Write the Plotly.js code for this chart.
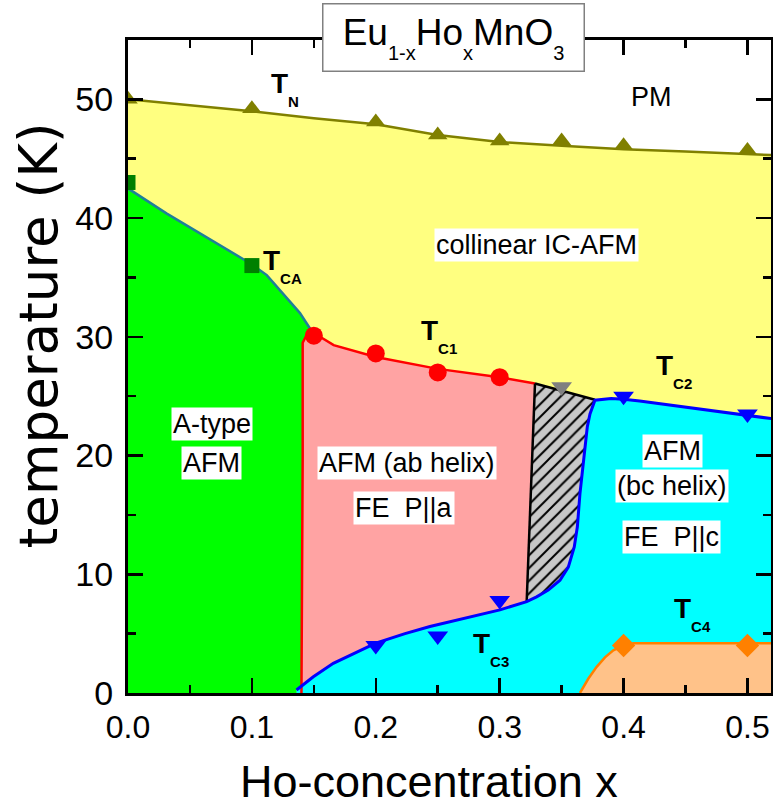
<!DOCTYPE html>
<html>
<head>
<meta charset="utf-8">
<script src="https://cdn.plot.ly/plotly-3.0.1.min.js"></script>
<style>html,body{margin:0;padding:0;background:#fff;}</style>
</head>
<body>
<div id="chart" style="width:773px;height:809px;"></div>
<script>
// ---- measured data points ----
const tnX = [0, 0.1, 0.2, 0.25, 0.3, 0.35, 0.4, 0.5];
const tnY = [50.0, 49.2, 48.1, 47.0, 46.5, 46.5, 46.1, 45.7];
const tcaX = [0, 0.1];
const tcaY = [43.0, 36.0];
const tc1X = [0.15, 0.2, 0.25, 0.3];
const tc1Y = [30.1, 28.6, 27.0, 26.6];
const tc2X = [0.4, 0.5];
const tc2Y = [25.0, 23.5];
const tcGrayX = [0.35];
const tcGrayY = [25.8];
const tc3X = [0.2, 0.25, 0.3];
const tc3Y = [4.0, 4.8, 7.8];
const tc4X = [0.4, 0.5];
const tc4Y = [4.0, 4.0];

// ---- phase boundary curves ----
const tnLineX = [0, 0.05, 0.1, 0.15, 0.2, 0.25, 0.3, 0.35, 0.4, 0.45, 0.5, 0.52];
const tnLineY = [50.0, 49.5, 49.0, 48.4, 47.9, 47.0, 46.4, 46.1, 45.8, 45.6, 45.4, 45.3];
const tcaLineX = [0, 0.031, 0.0985, 0.112, 0.1254, 0.1388, 0.1469];
const tcaLineY = [42.5, 40.4, 36.2, 35.2, 33.6, 32.0, 30.7];
const vertLineX = [0.1469, 0.141, 0.141, 0.1405, 0.140];
const vertLineY = [30.7, 29.5, 20, 12, 0];
const tc1LineX = [0.1469, 0.155, 0.166, 0.2, 0.25, 0.3, 0.3285];
const tc1LineY = [30.7, 30.0, 29.3, 28.3, 27.3, 26.6, 26.07];
const hatchLeftX = [0.3285, 0.3218];
const hatchLeftY = [26.07, 7.7];
const hatchTopX = [0.3285, 0.3769];
const hatchTopY = [26.07, 24.7];
const tc3LineX = [0.136, 0.1496, 0.1657, 0.2, 0.2236, 0.2437, 0.3002, 0.3218];
const tc3LineY = [0.25, 1.37, 2.5, 4.2, 5.0, 5.6, 7.0, 7.7];
const hatchRightX = [0.3218, 0.3298, 0.3392, 0.3487, 0.3554, 0.3602, 0.3627, 0.3648, 0.3675, 0.3707, 0.3729, 0.3769];
const hatchRightY = [7.7, 8.1, 8.67, 9.5, 10.6, 12.3, 14.0, 16.8, 19.6, 22.4, 23.5, 24.66];
const tc2LineX = [0.3769, 0.39, 0.4, 0.413, 0.45, 0.5, 0.52];
const tc2LineY = [24.66, 24.8, 24.75, 24.6, 24.1, 23.4, 23.1];
const tc4LineX = [0.3648, 0.3715, 0.3783, 0.385, 0.3917, 0.4, 0.408, 0.52];
const tc4LineY = [0, 1.2, 2.2, 3.0, 3.6, 4.0, 4.2, 4.2];

const xMax = 0.519;
const rev = a => a.slice().reverse();

// ---- polygons built from the boundaries ----
const yellowX = tnLineX.concat([tnLineX[tnLineX.length-1], 0]);
const yellowY = tnLineY.concat([0, 0]);
const greenX = [0].concat(tcaLineX, vertLineX.slice(1));
const greenY = [0].concat(tcaLineY, vertLineY.slice(1));
const pinkX = vertLineX.concat([hatchLeftX[1]], rev(hatchLeftX), rev(tc1LineX));
const pinkY = vertLineY.concat([0], rev(hatchLeftY), rev(tc1LineY));
const cyanX = tc3LineX.concat(hatchRightX.slice(1), tc2LineX.slice(1), [xMax, tc3LineX[0]]);
const cyanY = tc3LineY.concat(hatchRightY.slice(1), tc2LineY.slice(1), [0, 0]);
const orangeX = tc4LineX.concat([xMax]);
const orangeY = tc4LineY.concat([0]);
const hatchX = hatchLeftX.concat(hatchRightX.slice(1), rev(hatchTopX));
const hatchY = hatchLeftY.concat(hatchRightY.slice(1), rev(hatchTopY));
const blueLineX = tc3LineX.concat(hatchRightX.slice(1), tc2LineX.slice(1));
const blueLineY = tc3LineY.concat(hatchRightY.slice(1), tc2LineY.slice(1));

function poly(x, y, color, extra) {
  return Object.assign({x: x, y: y, mode: 'lines', fill: 'toself', fillcolor: color,
    line: {width: 0, color: color}, hoverinfo: 'skip', showlegend: false}, extra || {});
}
function line(x, y, color, w) {
  return {x: x, y: y, mode: 'lines', line: {color: color, width: w || 2.5}, hoverinfo: 'skip', showlegend: false};
}
function pts(x, y, sym, color, size) {
  return {x: x, y: y, mode: 'markers', marker: {symbol: sym, color: color, size: size, line: {width: 0}}, showlegend: false};
}

const traces = [
  poly(yellowX, yellowY, '#ffff80'),
  poly(greenX, greenY, '#00ff00'),
  poly(pinkX, pinkY, '#ffa3a3'),
  poly(cyanX, cyanY, '#00ffff'),
  poly(orangeX, orangeY, '#ffc289'),
  poly(hatchX, hatchY, '#c8c8c8', {fillpattern: {shape: '/', bgcolor: '#c8c8c8', fgcolor: '#000000', size: 9, solidity: 0.22}}),
  line(tnLineX, tnLineY, '#808000', 2.5),
  line(tcaLineX, tcaLineY, '#1f7f99', 2.5),
  line(vertLineX, vertLineY, '#ff0000', 2.5),
  line(tc1LineX, tc1LineY, '#ff0000', 2.5),
  line(hatchLeftX, hatchLeftY, '#000000', 2.5),
  line(hatchTopX, hatchTopY, '#000000', 2.5),
  line(blueLineX, blueLineY, '#0000ff', 3),
  line(tc4LineX, tc4LineY, '#ff8000', 2.5),
  pts(tnX, tnY, 'triangle-up', '#808000', 17),
  pts(tcaX, tcaY, 'square', '#008000', 15),
  pts(tc1X, tc1Y, 'circle', '#ff0000', 18),
  pts(tcGrayX, tcGrayY, 'triangle-down', '#808080', 18),
  pts(tc2X, tc2Y, 'triangle-down', '#0000ff', 18),
  pts(tc3X, tc3Y, 'triangle-down', '#0000ff', 18),
  pts(tc4X, tc4Y, 'diamond', '#ff8000', 18)
];

// ---- labels ----
const FONT = 'Liberation Sans, Arial, sans-serif';
const xTitle = 'Ho-concentration x';
const yTitle = 'temperature (K)';
function px2x(p) { return (p - 128) / 1239; }
function px2y(p) { return (693 - p) / 11.88; }
function boxLabel(text, cx, cy) {
  return {x: px2x(cx), y: px2y(cy), xref: 'x', yref: 'y', text: text, showarrow: false,
    font: {family: FONT, size: 27, color: '#000'}, bgcolor: '#ffffff', borderpad: 1, xanchor: 'center', yanchor: 'middle'};
}
function tLabel(sub, left, capTop) {
  return {x: px2x(left), y: px2y(capTop - 6), xref: 'x', yref: 'y', showarrow: false,
    text: '<b>T<span style="font-size:15px;baseline-shift:-14px">' + sub + '</span></b>',
    font: {family: FONT, size: 28, color: '#000'}, xanchor: 'left', yanchor: 'top', borderpad: 0};
}
const SUB = s => '<span style="font-size:20px;baseline-shift:-15px">' + s + '</span>';

const annotations = [
  {xref: 'paper', yref: 'paper', x: (453.5 - 128) / 643, y: (693 - 38) / 653, xanchor: 'center', yanchor: 'middle',
   showarrow: false, text: 'Eu' + SUB('1-x') + 'Ho' + SUB('x') + 'MnO' + SUB('3'),
   font: {family: FONT, size: 37, color: '#000'}, bgcolor: '#ffffff', bordercolor: '#808080', borderwidth: 1.5,
   width: 258, height: 64, borderpad: 1, valign: 'middle'},
  {xref: 'paper', yref: 'paper', x: (428.5 - 128) / 643, y: (693 - 781) / 653, xanchor: 'center', yanchor: 'middle',
   showarrow: false, text: xTitle, font: {family: FONT, size: 45, color: '#000'}, borderpad: 0},
  {xref: 'paper', yref: 'paper', x: (37.5 - 128) / 643, y: (693 - 336) / 653, xanchor: 'center', yanchor: 'middle',
   showarrow: false, textangle: -90, text: yTitle, font: {family: 'DejaVu Sans, sans-serif', size: 53, color: '#000'}},
  {x: px2x(652), y: px2y(97), xref: 'x', yref: 'y', text: 'PM', showarrow: false,
   font: {family: FONT, size: 27, color: '#000'}},
  boxLabel('collinear IC-AFM', 537, 245),
  boxLabel('A-type', 212, 424),
  boxLabel('AFM', 212, 463),
  boxLabel('AFM (ab helix)', 407, 463),
  boxLabel('FE  P||a', 404, 508),
  boxLabel('AFM', 673, 451),
  boxLabel('(bc helix)', 672, 486),
  boxLabel('FE  P||c', 672, 537),
  tLabel('N', 270, 73),
  tLabel('CA', 262, 250),
  tLabel('C1', 420, 320),
  tLabel('C2', 655, 355),
  tLabel('C3', 472, 633),
  tLabel('C4', 673, 598)
];

const axisCommon = {
  showline: true, linecolor: '#000', linewidth: 3, mirror: 'ticks',
  ticks: 'inside', ticklen: 15, tickwidth: 2.5, tickcolor: '#000',
  showgrid: false, zeroline: false
};

const layout = {
  width: 773, height: 809,
  margin: {l: 128, r: 2, t: 40, b: 116},
  paper_bgcolor: '#fff', plot_bgcolor: '#fff',
  showlegend: false,
  xaxis: Object.assign({}, axisCommon, {
    range: [0, xMax], tickmode: 'linear', tick0: 0, dtick: 0.1, tickformat: '.1f',
    tickfont: {family: FONT, size: 32, color: '#000'}, ticklabelstandoff: 4,
    minor: {ticks: 'inside', ticklen: 8, tickwidth: 2.5, tickcolor: '#000', dtick: 0.05, showgrid: false}
  }),
  yaxis: Object.assign({}, axisCommon, {
    range: [0, 55], tickmode: 'linear', tick0: 0, dtick: 10,
    tickfont: {family: FONT, size: 34, color: '#000'}, ticklabelstandoff: 5,
    minor: {ticks: 'inside', ticklen: 8, tickwidth: 2.5, tickcolor: '#000', dtick: 5, showgrid: false}
  }),
  annotations: annotations
};

Plotly.newPlot('chart', traces, layout, {displayModeBar: false, staticPlot: true});
</script>
</body>
</html>
